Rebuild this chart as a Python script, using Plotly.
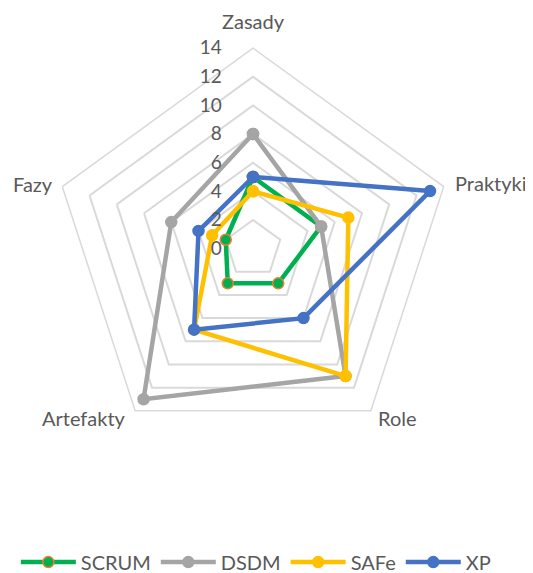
import plotly.graph_objects as go

categories = ["Zasady", "Praktyki", "Role", "Artefakty", "Fazy"]
scrum = [5, 5, 3, 3, 2]
dsdm = [8, 5, 11, 13, 6]
safe = [4, 7, 11, 7, 3]
xp = [5, 13, 6, 7, 4]
radial_ticks = [0, 2, 4, 6, 8, 10, 12, 14]

series = [
    ("SCRUM", scrum, "#00B050", "#ED7D31"),
    ("DSDM", dsdm, "#A5A5A5", "#A5A5A5"),
    ("SAFe", safe, "#FFC000", "#FFC000"),
    ("XP", xp, "#4472C4", "#4472C4"),
]

fig = go.Figure()
for name, vals, color, edge in series:
    fig.add_trace(go.Scatterpolar(
        r=vals + vals[:1],
        theta=categories + categories[:1],
        mode="lines+markers",
        name=name,
        line=dict(color=color, width=4.5),
        marker=dict(size=11, color=color, line=dict(color=edge, width=1.5)),
        hoverinfo="skip",
    ))

font_color = "#595959"

# category labels placed around the pentagon like in the original
label_pos = [
    (0.4597, 0.977, "center"),
    (0.835, 0.6946, "left"),
    (0.7317, 0.2845, "center"),
    (0.1426, 0.2845, "center"),
    (0.046, 0.6937, "center"),
]
for cat, (x, y, align) in zip(categories, label_pos):
    fig.add_annotation(
        text=cat, x=x, y=y, xref="paper", yref="paper",
        xanchor=align, yanchor="middle", showarrow=False,
        font=dict(size=20, color=font_color),
    )

fig.update_layout(
    width=533, height=573,
    margin=dict(l=0, r=0, t=0, b=0, autoexpand=False),
    paper_bgcolor="white",
    font=dict(family="Lato", color=font_color, size=19),
    polar=dict(
        domain=dict(x=[0.0835, 0.8358], y=[0.2302, 0.9300]),
        bgcolor="white",
        gridshape="linear",
        angularaxis=dict(
            direction="clockwise", rotation=90,
            showgrid=False, showline=True, linecolor="#D9D9D9", linewidth=1.5,
            ticks="", showticklabels=False,
        ),
        radialaxis=dict(
            range=[0, 14], tickvals=radial_ticks, angle=90, tickangle=90,
            side="counterclockwise",
            ticks="outside", ticklen=24, tickcolor="rgba(0,0,0,0)",
            showline=False, gridcolor="#D9D9D9", gridwidth=1.5,
            tickfont=dict(size=19, color=font_color),
        ),
    ),
    legend=dict(
        orientation="h", x=0.465, y=0.033, xanchor="center", yanchor="middle",
        itemwidth=55, font=dict(size=20, color=font_color),
        traceorder="normal",
    ),
)

fig.write_html("out.html")
